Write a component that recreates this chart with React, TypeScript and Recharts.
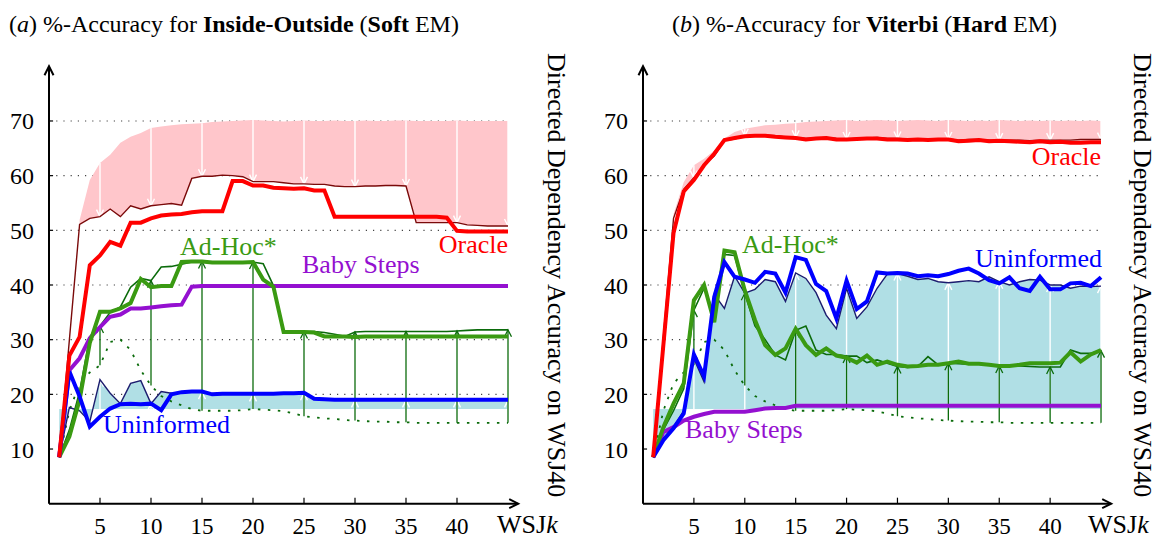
import React from 'react';
import { ComposedChart, Line, Area, XAxis, YAxis, ReferenceLine } from 'recharts';

// ---------- data ----------
const wsjK = [1,2,3,4,5,6,7,8,9,10,11,12,13,14,15,16,17,18,19,20,21,22,23,24,25,26,27,28,29,30,31,32,33,34,35,36,37,38,39,40,41,42,43,44,45];
const xTicks = [5, 10, 15, 20, 25, 30, 35, 40];
const yTicks = [10, 20, 30, 40, 50, 60, 70];
const gridValues = [20, 30, 40, 50, 60, 70];
const arrowKs = [5, 10, 15, 20, 25, 30, 35, 40, 45];
const uninformedFloor = 17.3;

// (a) Inside-Outside (Soft EM)
const softOracle = [8.5,27.1,30.5,43.6,45.4,47.9,47.2,51.4,51.4,52.2,52.7,52.9,53.0,53.3,53.5,53.5,53.5,59.0,59.0,58.2,58.2,57.8,57.7,57.6,57.7,57.3,57.3,52.5,52.5,52.5,52.5,52.5,52.5,52.5,52.5,52.5,52.5,52.5,52.3,49.9,49.8,49.8,49.8,49.8,49.8];
const softOracleThin = [8.5,30.0,51.1,52.2,52.5,53.9,52.5,54.5,53.9,54.5,54.7,54.9,54.6,59.5,59.9,59.9,60.1,60.0,59.8,58.9,58.9,58.9,58.7,58.5,58.5,58.4,58.4,58.1,58.0,58.0,58.1,58.1,58.2,58.2,58.1,51.4,51.4,51.4,51.4,51.4,51.0,50.9,50.8,50.8,50.8];
const softOracleUpper = [null,null,51.9,59.2,62.3,63.8,66.0,67.1,67.8,68.7,69.0,69.2,69.4,69.5,69.6,69.8,69.9,70.0,70.1,70.2,70.1,70.0,69.9,70.0,70.1,70.0,70.0,70.1,70.0,70.0,70.1,70.0,70.0,70.1,70.1,70.0,70.0,70.0,70.0,70.1,70.0,70.0,70.0,70.0,70.0];
const softBabySteps = [8.5,24.4,26.6,30.3,32.3,34.2,34.6,35.7,35.7,35.9,36.1,36.3,36.4,39.7,39.8,39.8,39.8,39.8,39.8,39.8,39.8,39.8,39.8,39.8,39.8,39.8,39.8,39.8,39.8,39.8,39.8,39.8,39.8,39.8,39.8,39.8,39.8,39.8,39.8,39.8,39.8,39.8,39.8,39.8,39.8];
const softAdHoc = [8.5,12.3,19.0,29.4,35.1,35.1,35.7,36.7,41.1,39.6,39.8,39.8,44.2,44.3,44.3,44.1,44.1,44.1,44.1,44.2,41.0,39.7,31.4,31.4,31.4,31.3,30.6,30.6,30.6,30.5,30.6,30.6,30.6,30.6,30.6,30.6,30.6,30.6,30.6,30.6,30.6,30.6,30.6,30.6,30.6];
const softAdHocThin = [8.5,13.5,20.5,30.5,32.5,35.0,36.0,39.6,41.2,40.8,43.3,43.4,43.8,44.2,44.3,44.2,44.1,44.1,44.1,44.2,43.9,39.9,31.5,31.5,31.5,31.5,31.3,31.0,30.6,31.4,31.5,31.5,31.5,31.5,31.5,31.5,31.5,31.5,31.5,31.6,31.7,31.8,31.8,31.8,31.8];
const softUninformed = [8.5,24.2,19.6,14.1,15.9,17.4,18.2,18.3,18.2,18.3,17.1,20.0,20.4,20.5,20.5,20.0,20.1,20.1,20.1,20.1,20.1,20.1,20.2,20.2,20.3,19.2,19.1,19.0,19.0,19.0,19.0,19.0,19.0,19.0,19.0,19.0,19.0,19.0,19.0,19.0,19.0,19.0,19.0,19.0,19.0];
const softUninformedThin = [8.5,17.6,17.0,15.0,22.7,20.2,18.3,22.0,22.5,18.3,20.5,20.2,20.3,20.4,20.4,20.0,20.0,20.0,20.0,20.0,20.0,20.0,20.1,20.1,20.2,19.1,19.0,18.9,18.9,18.9,18.9,18.9,18.9,18.9,18.9,18.9,18.9,18.9,18.9,18.9,18.9,18.9,18.9,18.9,18.9];
const softAdHocBaseline = [8.5,17.0,22.0,24.0,25.3,29.6,30.0,28.1,24.4,21.6,19.7,18.7,18.0,17.3,17.0,17.0,17.0,17.0,17.1,17.3,17.2,17.1,16.9,16.5,16.0,15.8,15.6,15.5,15.3,15.2,15.1,15.0,15.0,14.9,14.9,14.8,14.8,14.8,14.8,14.8,14.8,14.8,14.8,14.8,14.8];

// (b) Viterbi (Hard EM)
const hardOracle = [8.5,29.0,49.5,57.1,59.2,61.9,64.0,66.5,66.9,67.2,67.3,67.3,67.1,67.0,66.9,66.6,66.8,66.9,66.6,66.6,66.7,66.8,66.8,66.6,66.6,66.5,66.6,66.5,66.6,66.6,66.3,66.4,66.5,66.3,66.4,66.3,66.2,66.1,66.3,66.1,66.2,66.0,66.0,66.1,66.1];
const hardOracleThin = [8.5,30.5,52.2,57.5,59.6,62.0,63.6,66.4,66.7,67.3,67.4,67.4,67.3,67.1,67.0,66.8,66.9,67.0,66.8,66.7,66.8,66.9,67.0,66.8,66.8,66.7,66.7,66.7,66.6,66.7,66.5,66.6,66.6,66.5,66.5,66.5,66.5,66.4,66.5,66.5,66.5,66.5,66.6,66.6,66.6];
const hardOracleUpper = [null,null,53.0,58.8,61.9,63.1,64.6,66.8,68.0,68.6,68.9,69.2,69.3,69.5,69.6,69.8,69.9,70.0,70.1,70.2,70.0,70.1,70.2,70.1,70.0,70.1,70.2,70.1,70.0,70.2,70.1,70.0,70.1,70.0,70.2,70.1,70.0,70.1,70.0,70.1,70.0,70.1,70.0,70.1,70.0];
const hardBabySteps = [8.5,13.1,14.0,15.2,15.9,16.4,16.8,16.8,16.8,16.8,17.1,17.4,17.5,17.5,17.9,17.9,17.9,17.9,17.9,17.9,17.9,17.9,17.9,17.9,17.9,17.9,17.9,17.9,17.9,17.9,17.9,17.9,17.9,17.9,17.9,17.9,17.9,17.9,17.9,17.9,17.9,17.9,17.9,17.9,17.9];
const hardAdHoc = [8.5,14.0,18.3,22.0,37.2,40.0,33.2,46.3,46.0,39.0,33.6,29.0,27.2,28.4,32.0,29.0,27.2,28.4,27.1,26.7,25.8,27.1,25.4,26.0,25.4,25.1,25.2,25.4,25.4,25.7,26.0,25.6,25.6,25.4,25.2,25.2,25.4,25.7,25.7,25.7,25.8,27.7,26.0,27.3,28.1];
const hardAdHocThin = [8.5,13.5,17.0,21.0,35.4,39.4,34.8,45.6,45.4,38.5,32.5,30.0,27.2,26.3,31.7,32.5,28.1,27.3,27.3,27.0,27.0,25.8,26.3,25.7,25.1,24.9,25.1,26.9,25.4,25.7,25.6,25.5,25.6,25.4,25.2,25.2,25.2,25.1,25.0,25.0,25.0,28.1,27.5,27.5,28.0];
const hardUninformed = [8.5,11.6,13.8,16.5,27.3,23.3,37.8,44.2,41.5,41.0,40.4,42.4,42.1,38.6,45.1,44.6,40.2,38.9,33.9,40.8,35.6,37.0,42.3,42.1,42.2,42.1,41.6,41.8,41.6,42.0,42.6,43.0,42.1,40.9,40.3,41.4,39.4,38.9,41.5,39.2,39.2,40.3,40.4,39.8,41.4];
const hardUninformedThin = [8.5,12.0,14.0,17.0,26.5,22.3,38.3,35.7,41.6,38.5,39.2,41.0,40.6,37.0,42.2,41.2,38.6,34.5,32.0,39.4,33.9,36.0,39.4,42.0,42.1,41.6,41.0,41.2,40.6,40.4,40.6,40.8,40.6,41.5,40.6,40.0,40.6,41.0,40.9,40.0,40.0,39.4,39.8,39.7,39.8];
const hardAdHocBaseline = [8.5,17.0,22.0,24.0,25.3,29.6,30.0,28.1,24.4,21.6,19.7,18.7,18.0,17.3,17.0,17.0,17.0,17.0,17.1,17.3,17.2,17.1,16.9,16.5,16.0,15.8,15.6,15.5,15.3,15.2,15.1,15.0,15.0,14.9,14.9,14.8,14.8,14.8,14.8,14.8,14.8,14.8,14.8,14.8,14.8];

// ---------- styles ----------
const FONT = '"Liberation Serif", "Times New Roman", serif';
const C = {
  pink: '#ffc6cb',
  lightBlue: '#b0dfe5',
  red: '#ff0000',
  darkRed: '#7a0a0a',
  blue: '#0000ff',
  navy: '#1c1c6e',
  green: '#3a9a12',
  darkGreen: '#0b6b0b',
  purple: '#9410d0',
  grid: '#444444',
};

type Series = {
  oracle: number[]; oracleThin: number[]; oracleUpper: (number | null)[];
  baby: number[]; adHoc: number[]; adHocThin: number[];
  uninf: number[]; uninfThin: number[]; baseline: number[];
};

const soft: Series = {
  oracle: softOracle, oracleThin: softOracleThin, oracleUpper: softOracleUpper,
  baby: softBabySteps, adHoc: softAdHoc, adHocThin: softAdHocThin,
  uninf: softUninformed, uninfThin: softUninformedThin, baseline: softAdHocBaseline,
};
const hard: Series = {
  oracle: hardOracle, oracleThin: hardOracleThin, oracleUpper: hardOracleUpper,
  baby: hardBabySteps, adHoc: hardAdHoc, adHocThin: hardAdHocThin,
  uninf: hardUninformed, uninfThin: hardUninformedThin, baseline: hardAdHocBaseline,
};

function buildRows(s: Series) {
  return wsjK.map((k, i) => ({
    k,
    oracle: s.oracle[i],
    oracleThin: s.oracleThin[i],
    pink: s.oracleUpper[i] == null ? null : [s.oracleThin[i], s.oracleUpper[i]],
    baby: s.baby[i],
    adHoc: s.adHoc[i],
    adHocThin: s.adHocThin[i],
    uninf: s.uninf[i],
    uninfThin: s.uninfThin[i],
    blue: [uninformedFloor, s.uninfThin[i]],
    baseline: s.baseline[i],
  }));
}

const arrowShape = (color: string, width: number, head: number) => (props: any) => {
  const x1 = Number(props.x1), y1 = Number(props.y1), x2 = Number(props.x2), y2 = Number(props.y2);
  if (![x1, y1, x2, y2].every(Number.isFinite)) return <g />;
  const dx = x2 - x1, dy = y2 - y1;
  const len = Math.hypot(dx, dy) || 1;
  const ux = dx / len, uy = dy / len;
  const h = Math.min(head, Math.max(len, 3));
  const hx = x2 - ux * h, hy = y2 - uy * h;
  const px = -uy * h * 0.5, py = ux * h * 0.5;
  return (
    <g>
      <line x1={x1} y1={y1} x2={x2} y2={y2} stroke={color} strokeWidth={width} />
      <polyline points={`${hx + px},${hy + py} ${x2},${y2} ${hx - px},${hy - py}`} fill="none" stroke={color} strokeWidth={width} strokeLinejoin="miter" />
    </g>
  );
};

const whiteArrow = arrowShape('#ffffff', 1.4, 7);
const greenArrow = arrowShape(C.darkGreen, 1.3, 7);
const axisArrow = arrowShape('#000000', 2, 9);

function Panel({ s, marginLeft, marginRight }: { s: Series; marginLeft: number; marginRight: number }) {
  const rows = buildRows(s);
  const idx = (k: number) => wsjK.indexOf(k);
  return (
    <ComposedChart
      width={579}
      height={539}
      data={rows}
      margin={{ top: 66.3, right: marginRight, bottom: 5.3, left: marginLeft }}
    >
      <XAxis
        dataKey="k"
        type="number"
        domain={[0, 46]}
        ticks={xTicks}
        interval={0}
        allowDataOverflow
        axisLine={false}
        tickLine={false}
        tickSize={0}
        tickMargin={14}
        height={30}
        tick={{ fontFamily: FONT, fontSize: 23, fill: '#000' }}
      />
      <YAxis
        type="number"
        domain={[0, 80]}
        ticks={yTicks}
        interval={0}
        allowDataOverflow
        axisLine={false}
        tickLine={false}
        tickSize={0}
        tickMargin={15}
        width={40}
        tick={{ fontFamily: FONT, fontSize: 24, fill: '#000' }}
      />
      {gridValues.map((v) => (
        <ReferenceLine
          key={'g' + v}
          segment={[{ x: 0, y: v }, { x: 45, y: v }]}
          stroke={C.grid}
          strokeWidth={1.2}
          strokeDasharray="1.2 6"
          zIndex={50}
        />
      ))}
      <Area type="linear" dataKey="pink" stroke="none" fill={C.pink} fillOpacity={1} isAnimationActive={false} connectNulls={false} dot={false} activeDot={false} />
      <Area type="linear" dataKey="blue" stroke="none" fill={C.lightBlue} fillOpacity={1} isAnimationActive={false} dot={false} activeDot={false} />
      {arrowKs.map((k) => (
        <ReferenceLine
          key={'wd' + k}
          segment={[{ x: k, y: s.oracleUpper[idx(k)] as number }, { x: k, y: s.oracleThin[idx(k)] }]}
          shape={whiteArrow}
          zIndex={150}
        />
      ))}
      {arrowKs.map((k) => (
        <ReferenceLine
          key={'wu' + k}
          segment={[{ x: k, y: uninformedFloor }, { x: k, y: s.uninfThin[idx(k)] }]}
          shape={whiteArrow}
          zIndex={150}
        />
      ))}
      <Line type="linear" dataKey="baseline" stroke={C.darkGreen} strokeWidth={1.8} strokeDasharray="2.5 7.5" dot={false} activeDot={false} isAnimationActive={false} />
      {arrowKs.map((k) => (
        <ReferenceLine
          key={'ga' + k}
          segment={[{ x: k, y: s.baseline[idx(k)] }, { x: k, y: s.adHocThin[idx(k)] }]}
          shape={greenArrow}
          zIndex={160}
        />
      ))}
      <Line type="linear" dataKey="oracleThin" stroke={C.darkRed} strokeWidth={1.4} dot={false} activeDot={false} isAnimationActive={false} />
      <Line type="linear" dataKey="uninfThin" stroke={C.navy} strokeWidth={1.4} dot={false} activeDot={false} isAnimationActive={false} />
      <Line type="linear" dataKey="adHocThin" stroke={C.darkGreen} strokeWidth={1.6} dot={false} activeDot={false} isAnimationActive={false} />
      <Line type="linear" dataKey="baby" stroke={C.purple} strokeWidth={4} dot={false} activeDot={false} isAnimationActive={false} />
      <Line type="linear" dataKey="adHoc" stroke={C.green} strokeWidth={4} dot={false} activeDot={false} isAnimationActive={false} />
      <Line type="linear" dataKey="uninf" stroke={C.blue} strokeWidth={4} dot={false} activeDot={false} isAnimationActive={false} />
      <Line type="linear" dataKey="oracle" stroke={C.red} strokeWidth={4} dot={false} activeDot={false} isAnimationActive={false} />
      {yTicks.map((v) => (
        <ReferenceLine key={'yt' + v} segment={[{ x: 0, y: v }, { x: 0.4, y: v }]} stroke="#000" strokeWidth={1.2} zIndex={500} />
      ))}
      {xTicks.map((v) => (
        <ReferenceLine key={'xt' + v} segment={[{ x: v, y: 0 }, { x: v, y: 1.1 }]} stroke="#000" strokeWidth={1.2} zIndex={500} />
      ))}
      <ReferenceLine segment={[{ x: 0, y: 0 }, { x: 0, y: 80 }]} shape={axisArrow} zIndex={500} />
      <ReferenceLine segment={[{ x: 0, y: 0 }, { x: 46, y: 0 }]} shape={axisArrow} zIndex={500} />
    </ComposedChart>
  );
}

const labelStyle = { fontFamily: FONT, fontSize: 26 } as const;

export default function App() {
  return (
    <div style={{ position: 'absolute', left: 0, top: 0, width: 1158, height: 539, background: '#fff' }}>
      <div style={{ position: 'absolute', left: 0, top: 0 }}>
        <Panel s={soft} marginLeft={9} marginRight={60.8} />
      </div>
      <div style={{ position: 'absolute', left: 579, top: 0 }}>
        <Panel s={hard} marginLeft={24} marginRight={46.8} />
      </div>
      <svg width={1158} height={539} style={{ position: 'absolute', left: 0, top: 0, pointerEvents: 'none' }}>
        <text x={9} y={32} style={{ fontFamily: FONT, fontSize: 24 }} fill="#000">
          (<tspan fontStyle="italic">a</tspan>) %-Accuracy for <tspan fontWeight="bold">Inside-Outside</tspan> (<tspan fontWeight="bold">Soft</tspan> EM)
        </text>
        <text x={672} y={32} style={{ fontFamily: FONT, fontSize: 24 }} fill="#000">
          (<tspan fontStyle="italic">b</tspan>) %-Accuracy for <tspan fontWeight="bold">Viterbi</tspan> (<tspan fontWeight="bold">Hard</tspan> EM)
        </text>

        <text x={180} y={255} style={labelStyle} fill={C.green}>Ad-Hoc*</text>
        <text x={302} y={273} style={labelStyle} fill={C.purple}>Baby Steps</text>
        <text x={508} y={253} style={labelStyle} fill={C.red} textAnchor="end">Oracle</text>
        <text x={103} y={433} style={labelStyle} fill={C.blue}>Uninformed</text>

        <text x={742} y={253} style={labelStyle} fill={C.green}>Ad-Hoc*</text>
        <text x={1101} y={165} style={labelStyle} fill={C.red} textAnchor="end">Oracle</text>
        <text x={1102} y={267} style={labelStyle} fill={C.blue} textAnchor="end">Uninformed</text>
        <text x={685} y={438} style={labelStyle} fill={C.purple}>Baby Steps</text>

        <text x={497} y={533} style={{ fontFamily: FONT, fontSize: 26 }} fill="#000">WSJ<tspan fontStyle="italic">k</tspan></text>
        <text x={1088} y={533} style={{ fontFamily: FONT, fontSize: 26 }} fill="#000">WSJ<tspan fontStyle="italic">k</tspan></text>

        <text x={548} y={53} transform="rotate(90, 548, 53)" style={{ fontFamily: FONT, fontSize: 26 }} fill="#000">Directed Dependency Accuracy on WSJ40</text>
        <text x={1134} y={53} transform="rotate(90, 1134, 53)" style={{ fontFamily: FONT, fontSize: 26 }} fill="#000">Directed Dependency Accuracy on WSJ40</text>
      </svg>
    </div>
  );
}
